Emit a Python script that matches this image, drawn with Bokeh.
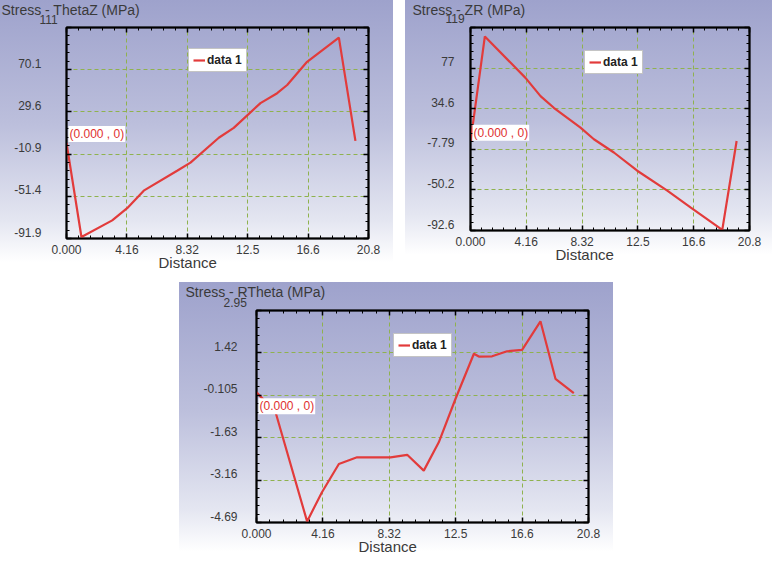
import numpy as np
from bokeh.plotting import figure
from bokeh.models import Range1d, FixedTicker, LinearAxis, Label, Legend, LegendItem, Spacer, Title
from bokeh.layouts import row, column
from bokeh.embed import file_html
from bokeh.resources import INLINE

# ---------------- data ----------------
x_tick_labels = ["0.000", "4.16", "8.32", "12.5", "16.6", "20.8"]
x_min, x_max = 0.0, 20.8

thetaz_x = [0.0, 1.03, 3.15, 4.18, 5.32, 7.62, 8.54, 10.49, 11.52, 13.36, 14.51, 15.2, 16.57, 18.76, 19.9]
thetaz_y = [0.0, -90.5, -74.5, -62.7, -45.9, -26.8, -18.9, 5.0, 14.5, 38.3, 47.8, 55.7, 78.0, 101.2, 2.0]
thetaz_ticks = ["-91.9", "-51.4", "-10.9", "29.6", "70.1", "111"]

zr_x = [0.0, 1.07, 4.1, 5.22, 6.21, 8.2, 9.2, 10.69, 12.43, 14.67, 16.4, 18.77, 19.84]
zr_y = [0.0, 109.7, 66.5, 47.5, 35.3, 14.6, 2.5, -11.3, -30.3, -51.0, -68.4, -92.0, 0.7]
zr_ticks = ["-92.6", "-50.2", "-7.79", "34.6", "77", "119"]

rt_x = [0.0, 1.19, 3.17, 4.1, 5.16, 6.3, 8.4, 9.44, 10.48, 11.42, 12.47, 13.62, 13.93,
        14.76, 15.7, 16.64, 17.79, 18.73, 19.88]
rt_y = [0.0, -0.71, -4.65, -3.6, -2.58, -2.34, -2.34, -2.25, -2.82, -1.8, -0.23, 1.39, 1.29,
        1.3, 1.48, 1.53, 2.56, 0.49, -0.03]
rt_ticks = ["-4.69", "-3.16", "-1.63", "-0.105", "1.42", "2.95"]

titles = ["Stress - ThetaZ (MPa)", "Stress - ZR (MPa)", "Stress - RTheta (MPa)"]
x_title = "Distance"
series_name = "data 1"
probe_text = "(0.000 , 0)"

FONT = "Liberation Sans"
GRAD = "linear-gradient(180deg, #9ea2cc 0%, #bcbfdc 45%, #e4e6f1 80%, #ffffff 95%)"


def make_panel(xs, ys, ytick_labels, title, W, H, bl, br, bt, bb,
               ystand, title_x, title_so, top_x, top_so, dist_x, legend_xy, probe_dy,
               probe_below=False):
    ymin, ymax = float(ytick_labels[0]), float(ytick_labels[-1])
    p = figure(width=W, height=H, output_backend="svg", toolbar_location=None,
               x_range=Range1d(x_min, x_max), y_range=Range1d(ymin, ymax),
               min_border_left=bl, min_border_right=br, min_border_top=bt, min_border_bottom=bb)
    p.styles = {"background": GRAD}
    p.background_fill_alpha = 0
    p.border_fill_alpha = 0
    p.outline_line_color = "black"
    p.outline_line_width = 2
    fb = H - bb
    fh = H - bb - bt

    # labels of the y axis sit a few pixels above their ticks, as in the reference
    d = 6.5 / fh * (ymax - ymin)
    p.extra_y_ranges = {"lab": Range1d(ymin - d, ymax - d)}

    xt = [float(v) for v in np.linspace(x_min, x_max, 6)]
    yt = [float(v) for v in np.linspace(ymin, ymax, 6)]
    xticker = FixedTicker(ticks=xt, minor_ticks=[float(v) for v in np.linspace(x_min, x_max, 26)])
    yticker = FixedTicker(ticks=yt, minor_ticks=[float(v) for v in np.linspace(ymin, ymax, 26)])

    p.xaxis.ticker = xticker
    p.yaxis.ticker = yticker
    p.xaxis.major_label_overrides = {v: s for v, s in zip(xt, x_tick_labels)}
    p.yaxis.major_label_overrides = {v: "" for v in yt}
    p.yaxis.major_label_standoff = 0
    p.add_layout(LinearAxis(ticker=xticker, major_label_overrides={v: "" for v in xt},
                            major_label_standoff=0), "above")
    p.add_layout(LinearAxis(ticker=yticker, major_label_overrides={v: "" for v in yt},
                            major_label_standoff=0), "right")

    for ax in p.axis:
        ax.axis_line_color = "black"
        ax.axis_line_width = 1.5
        ax.major_tick_in = 5
        ax.major_tick_out = 0
        ax.minor_tick_in = 3
        ax.minor_tick_out = 0
        ax.major_tick_line_color = "black"
        ax.major_tick_line_width = 1.5
        ax.minor_tick_line_color = "black"
        ax.major_label_text_font = FONT
        ax.major_label_text_color = "#3a3a3a"
        ax.major_label_text_font_size = "12px"
    p.below[0].major_label_standoff = 6

    lab_axis = LinearAxis(y_range_name="lab", ticker=FixedTicker(ticks=yt[:-1], minor_ticks=[]),
                          major_label_overrides={v: s for v, s in zip(yt, ytick_labels)},
                          axis_line_color=None, major_tick_line_color=None,
                          minor_tick_line_color=None, major_tick_in=0, major_tick_out=0,
                          minor_tick_in=0, minor_tick_out=0, major_label_standoff=ystand,
                          major_label_text_font=FONT, major_label_text_font_size="12px",
                          major_label_text_color="#3a3a3a")
    p.add_layout(lab_axis, "left")

    # the top y tick label sits above the frame: drawn in the band above the plot
    p.add_layout(Title(text=ytick_labels[-1], align="left", offset=top_x - bl,
                       vertical_align="top", standoff=top_so, text_font=FONT,
                       text_font_size="12px", text_font_style="normal",
                       text_color="#3a3a3a"), "above")

    p.grid.grid_line_color = "#8fb24e"
    p.grid.grid_line_dash = "4 3"
    p.grid.grid_line_width = 1
    p.xgrid.ticker = xticker
    p.ygrid.ticker = yticker

    r = p.line(xs, ys, line_color="#e23b3b", line_width=2.2)

    leg = Legend(items=[LegendItem(label=series_name, renderers=[r])],
                 location=(legend_xy[0] - bl, fb - legend_xy[1]),
                 background_fill_color="white", background_fill_alpha=1,
                 border_line_color="#8a8a8a", border_line_width=1,
                 label_text_font=FONT, label_text_font_size="12px", label_text_font_style="bold",
                 label_text_color="#222222", glyph_width=12, glyph_height=12,
                 label_height=12, label_standoff=2, padding=4, margin=0, spacing=0)
    p.add_layout(leg, "center")

    probe = Label(x=xs[0], y=ys[0], text=probe_text, x_offset=2, y_offset=probe_dy,
                  text_baseline=("top" if probe_below else "bottom"),
                  text_font=FONT, text_font_size="12px", text_color="#e03030",
                  background_fill_color="white", background_fill_alpha=1, padding=1)
    p.add_layout(probe)

    p.title.text = title
    p.title.align = "left"
    p.title.offset = title_x - bl
    p.title.vertical_align = "bottom"
    p.title.standoff = title_so
    p.title.text_font = FONT
    p.title.text_font_size = "14px"
    p.title.text_font_style = "normal"
    p.title.text_color = "#3a3a3a"

    p.add_layout(Title(text=x_title, align="left", offset=dist_x - bl, vertical_align="top",
                       standoff=-6, text_font=FONT, text_font_size="15px",
                       text_font_style="normal", text_color="#3a3a3a"), "below")
    return p


# legend_xy = (left, bottom) of legend box in canvas px from the top-left
p1 = make_panel(thetaz_x, thetaz_y, thetaz_ticks, titles[0], 393, 276, 66, 25, 27, 36,
                25, 1, -10, 39, 4, 158, (188, 74), 1)
p2 = make_panel(zr_x, zr_y, zr_ticks, titles[1], 367, 268, 65, 23, 26, 38,
                16, 7, -12, 40, 5, 150, (179, 74), 1)
p3 = make_panel(rt_x, rt_y, rt_ticks, titles[2], 434, 284, 77, 25, 28, 44,
                19, 6, -9, 44, 4, 179, (214, 75), -6, probe_below=True)

layout = column(row(p1, Spacer(width=12, height=10), p2),
                Spacer(width=10, height=6),
                row(Spacer(width=179, height=10), p3))

open("out.html", "w").write(file_html(layout, INLINE))
